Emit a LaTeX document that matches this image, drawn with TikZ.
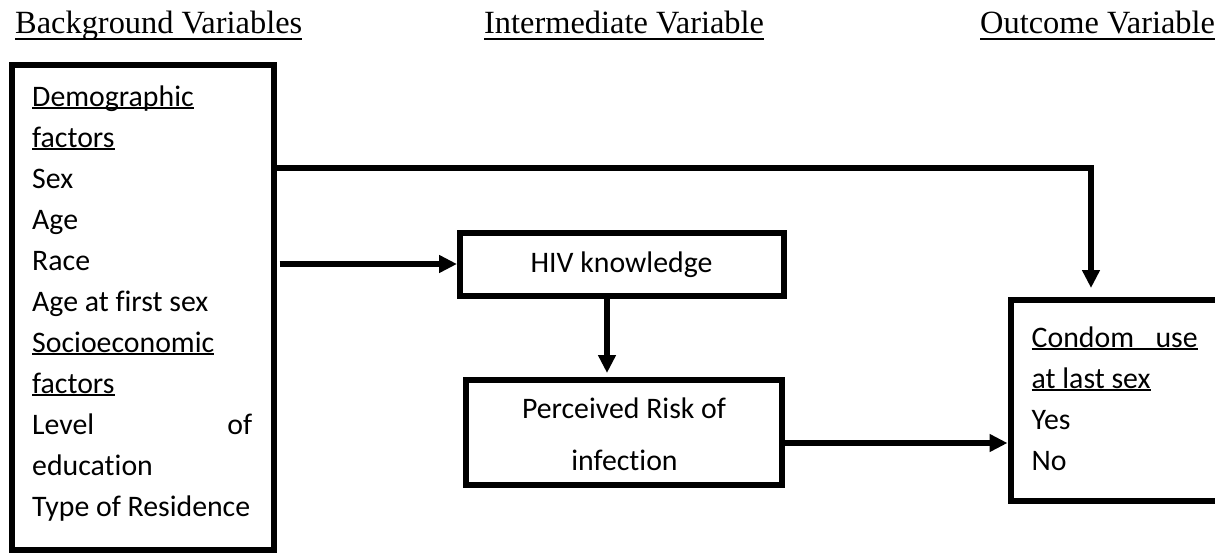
\documentclass[tikz,border=0pt]{standalone}
\usepackage{fontspec}
\setmainfont{Liberation Serif}
\newfontfamily\bodyfont{Carlito}[Ligatures=NoCommon]
\usetikzlibrary{arrows.meta}
\newcommand\ulbox[1]{\setbox0\hbox{#1}\rlap{\rule[-3.2pt]{\wd0}{2.2pt}}\box0}
\newcommand\ulhead[1]{\setbox0\hbox{#1}\rlap{\rule[-7pt]{\wd0}{2pt}}\box0}
\begin{document}
\begin{tikzpicture}[x=1pt,y=-1pt,
  box/.style={draw,line width=6pt,inner sep=0pt,outer sep=3pt},
  head/.style={font=\fontsize{32.4pt}{38pt}\selectfont,inner sep=0pt,anchor=base west},
  txt/.style={font=\bodyfont\fontsize{29.8pt}{35pt}\selectfont,inner sep=0pt,anchor=base west},
  ctxt/.style={font=\bodyfont\fontsize{29.8pt}{35pt}\selectfont,inner sep=0pt,anchor=base},
  arr/.style={line width=6pt,-{Triangle[length=18pt,width=17pt]}}]
\clip (0,0) rectangle (1215,552);
% headings
\node[head] (h1) at (15,33) {\ulhead{Background Variables}};
\node[head] (h2) at (484,33) {\ulhead{Intermediate Variable}};
\node[head] (h3) at (980,33) {\ulhead{Outcome Variable}};
% boxes
\node[box,minimum width=262pt,minimum height=484.5pt] (bg) at (142.5,307.25) {};
\node[box,minimum width=324pt,minimum height=63pt] (hiv) at (622,264) {};
\node[box,minimum width=316pt,minimum height=105pt] (perc) at (624,432) {};
\node[box,minimum width=289.5pt,minimum height=201pt] (cond) at (1155.25,400.5) {};
% background text
\node[txt] (b1) at (32,106) {\ulbox{Demographic}};
\node[txt] (b2) at (32,147) {\ulbox{factors}};
\node[txt] (b3) at (32,188) {Sex};
\node[txt] (b4) at (32,229) {Age};
\node[txt] (b5) at (32,270) {Race};
\node[txt] (b6) at (32,311) {Age at first sex};
\node[txt] (b7) at (32,352) {\ulbox{Socioeconomic}};
\node[txt] (b8) at (32,393) {\ulbox{factors}};
\node[txt] (b9) at (32,434) {\hbox to 220pt{Level\hfill of}};
\node[txt] (b10) at (32,475) {education};
\node[txt] (b11) at (32,516) {Type of Residence};
% intermediate text
\node[ctxt] (hivt) at (621.5,272) {HIV knowledge};
\node[ctxt] (perct1) at (624,418) {Perceived Risk of};
\node[ctxt] (perct2) at (624.5,470) {infection};
% outcome text
\node[txt] (c1) at (1031.5,347) {\ulbox{\hbox to 166pt{Condom\hfill use}}};
\node[txt] (c2) at (1031.5,388) {\ulbox{at last sex}};
\node[txt] (c3) at (1031.5,429) {Yes};
\node[txt] (c4) at (1031.5,470) {No};
% connectors
\coordinate (t1) at (1091,167.5);
\draw[arr,shorten >=9pt] (bg.east |- t1) -- (t1) -- (t1 |- cond.north);
\draw[arr,shorten <=3pt] (bg.east |- hiv.west) -- (hiv.west);
\draw[arr,shorten >=3.5pt] ([xshift=-15pt]hiv.south) -- ([xshift=-15pt]hiv.south |- perc.north);
\draw[arr] ([yshift=-11pt]perc.east) -- ([yshift=-11pt]perc.east -| cond.west);
\end{tikzpicture}
\end{document}
